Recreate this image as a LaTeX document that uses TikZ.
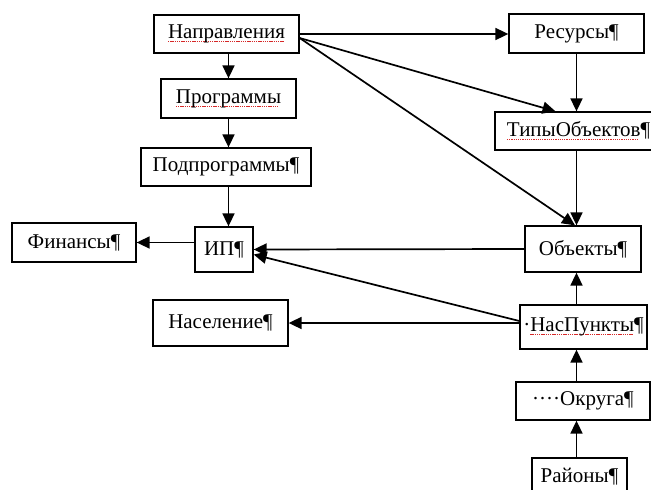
\documentclass[tikz,border=0pt]{standalone}
\usepackage{fontspec}
\setmainfont{Liberation Serif}
\usetikzlibrary{arrows.meta,positioning,calc}
\definecolor{SpellRed}{HTML}{D62828}
\newsavebox\spellbox
\newcommand\spellmark[1]{\sbox\spellbox{#1}%
  \rlap{\raisebox{-0.4ex}{\textcolor{SpellRed}{\leaders\hbox{\rule{1.3pt}{1pt}\kern0.9pt}\hskip\wd\spellbox}}}\usebox\spellbox}

\begin{document}
\begin{tikzpicture}[x=1pt,y=-1pt]
    \tikzset{box/.style={draw,line width=1.3pt,inner sep=0pt,font=\fontsize{21}{24}\selectfont},
      link/.style={line width=1.7pt,-{Triangle[length=13pt,width=12pt]}}}
    \useasboundingbox (0,0) rectangle (651,490);
    % left column
    \node[box,minimum width=145pt,minimum height=38pt] (nap) at (226.5,34) {\spellmark{Направления}};
    \node[box,minimum width=135pt,minimum height=39pt] (prog) at (228.5,98.5) {\spellmark{Программы}};
    \node[box,minimum width=170pt,minimum height=38pt] (podp) at (226,167) {Подпрограммы¶};
    \node[box,minimum width=58pt,minimum height=45pt] (ip) at (224,249.5) {ИП¶};
    \node[box,minimum width=124pt,minimum height=39pt] (fin) at (74,242.5) {Финансы¶};
    \node[box,minimum width=135pt,minimum height=46pt] (nas) at (220.5,323) {Население¶};
    % right column
    \node[box,minimum width=135pt,minimum height=39pt] (res) at (576.5,33.5) {Ресурсы¶};
    \node[box,minimum width=167pt,minimum height=38pt] (tip) at (578.5,131) {\spellmark{ТипыОбъектов}¶};
    \node[box,minimum width=116pt,minimum height=46pt] (obj) at (583,249) {Объекты¶};
    \node[box,minimum width=127pt,minimum height=44pt] (nasp) at (583.5,327) {·\spellmark{НасПункты}¶};
    \node[box,minimum width=134pt,minimum height=38pt] (okr) at (583,401) {····Округа¶};
    \node[box,minimum width=95pt,minimum height=38pt] (rai) at (579.5,477) {Районы¶};
    % connectors
    \draw[link] (prog.north |- nap.south) -- (prog.north);
    \draw[link] (prog.south) -- (prog.south |- podp.north);
    \draw[link] (prog.south |- podp.south) -- (prog.south |- ip.north);
    \draw[link] (ip.west |- fin.east) -- (fin.east);
    \draw[link] (nap.east) -- (res.west |- nap.east);
    \draw[link] ($(nap.east)+(0,4)$) -- ($(tip.north)+(-23,0)$);
    \draw[link] ($(nap.east)+(0,4)$) -- ($(obj.north)+(-8,0)$);
    \draw[link] (res.south) -- (res.south |- tip.north);
    \draw[link] (res.south |- tip.south) -- (res.south |- obj.north);
    \draw[link] (obj.west) -- (ip.east);
    \draw[link] ($(nasp.west)+(0,-6)$) -- ($(ip.east)+(0,5)$);
    \draw[link] (nasp.west |- nas.east) -- (nas.east);
    \draw[link] (res.south |- nasp.north) -- (res.south |- obj.south);
    \draw[link] (res.south |- okr.north) -- (res.south |- nasp.south);
    \draw[link] (res.south |- rai.north) -- (res.south |- okr.south);
\end{tikzpicture}
\end{document}
